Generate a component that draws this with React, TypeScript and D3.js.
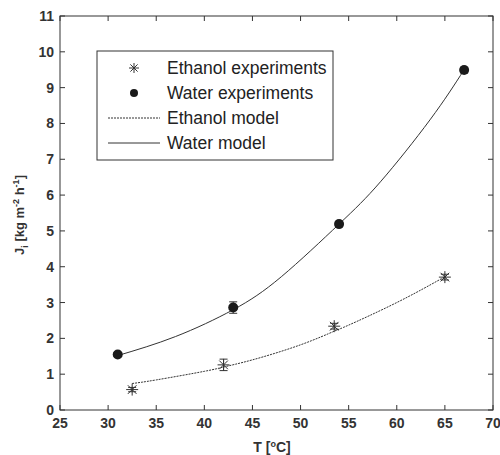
import React from 'react';
import * as d3 from 'd3';

const width = 500;
const height = 455;
const margin = { top: 16, right: 7, bottom: 45, left: 60 };

// experiments
const waterT = [31, 43, 54, 67];
const waterJ = [1.55, 2.86, 5.19, 9.49];
const waterErr = [0.05, 0.16, 0.05, 0.08];
const ethanolT = [32.5, 42, 53.5, 65];
const ethanolJ = [0.57, 1.26, 2.34, 3.71];
const ethanolErr = [0.06, 0.16, 0.08, 0.08];

// model curves
const waterModelT = [31, 37, 43, 48, 54, 58.3, 63.45, 67];
const waterModelJ = [1.52, 2.05, 2.8, 3.72, 5.19, 6.37, 8.1, 9.5];
const ethanolModelT = [32.5, 35, 40, 42, 45, 50, 53.5, 55, 60, 65];
const ethanolModelJ = [0.74, 0.84, 1.08, 1.2, 1.4, 1.82, 2.2, 2.37, 3.0, 3.72];

const xTicks = [25, 30, 35, 40, 45, 50, 55, 60, 65, 70];
const yTicks = [0, 1, 2, 3, 4, 5, 6, 7, 8, 9, 10, 11];
const legendLabels = ['Ethanol experiments', 'Water experiments', 'Ethanol model', 'Water model'];

const ink = '#333';

const Star = ({ x, y, r }: { x: number; y: number; r: number }) => {
  const d = r * 0.72;
  return (
    <g stroke={ink} strokeWidth={1}>
      <line x1={x - r} y1={y} x2={x + r} y2={y} />
      <line x1={x} y1={y - r} x2={x} y2={y + r} />
      <line x1={x - d} y1={y - d} x2={x + d} y2={y + d} />
      <line x1={x - d} y1={y + d} x2={x + d} y2={y - d} />
    </g>
  );
};

export default function App() {
  const x = d3.scaleLinear().domain([25, 70]).range([margin.left, width - margin.right]);
  const y = d3.scaleLinear().domain([0, 11]).range([height - margin.bottom, margin.top]);
  const line = d3
    .line<[number, number]>()
    .x(d => x(d[0]))
    .y(d => y(d[1]))
    .curve(d3.curveNatural);

  const waterModel = line(waterModelT.map((t, i) => [t, waterModelJ[i]] as [number, number]));
  const ethanolModel = line(ethanolModelT.map((t, i) => [t, ethanolModelJ[i]] as [number, number]));

  const x0 = margin.left, x1 = width - margin.right;
  const y0 = height - margin.bottom, y1 = margin.top;
  const tl = 5;
  const font = 'Liberation Sans, Arial, sans-serif';

  const errBar = (t: number, v: number, e: number, k: string) => (
    <g key={k} stroke={ink} strokeWidth={1}>
      <line x1={x(t)} x2={x(t)} y1={y(v - e)} y2={y(v + e)} />
      <line x1={x(t) - 4} x2={x(t) + 4} y1={y(v - e)} y2={y(v - e)} />
      <line x1={x(t) - 4} x2={x(t) + 4} y1={y(v + e)} y2={y(v + e)} />
    </g>
  );

  const lgX = 97, lgY = 51, lgW = 236, lgH = 109;
  const rowY = [68, 93, 118, 143];

  return (
    <svg width={width} height={height} style={{ position: 'absolute', left: 0, top: 0, background: '#fff' }}>
      <rect x={0} y={0} width={width} height={height} fill="#fff" />
      {/* model curves */}
      <path d={ethanolModel || ''} fill="none" stroke={ink} strokeWidth={1} strokeDasharray="2,1" />
      <path d={waterModel || ''} fill="none" stroke={ink} strokeWidth={1} />

      {/* experiments */}
      {ethanolT.map((t, i) => errBar(t, ethanolJ[i], ethanolErr[i], 'ee' + i))}
      {ethanolT.map((t, i) => (
        <Star key={'es' + i} x={x(t)} y={y(ethanolJ[i])} r={6} />
      ))}
      {waterT.map((t, i) => errBar(t, waterJ[i], waterErr[i], 'we' + i))}
      {waterT.map((t, i) => (
        <circle key={'wc' + i} cx={x(t)} cy={y(waterJ[i])} r={5} fill="#1a1a1a" />
      ))}

      {/* frame + ticks */}
      <rect x={x0} y={y1} width={x1 - x0} height={y0 - y1} fill="none" stroke={ink} strokeWidth={1} />
      {xTicks.map(t => (
        <g key={'xt' + t} stroke={ink}>
          <line x1={x(t)} x2={x(t)} y1={y0} y2={y0 - tl} />
          <line x1={x(t)} x2={x(t)} y1={y1} y2={y1 + tl} />
        </g>
      ))}
      {yTicks.map(t => (
        <g key={'yt' + t} stroke={ink}>
          <line x1={x0} x2={x0 + tl} y1={y(t)} y2={y(t)} />
          <line x1={x1} x2={x1 - tl} y1={y(t)} y2={y(t)} />
        </g>
      ))}
      {xTicks.map(t => (
        <text key={'xl' + t} x={x(t)} y={y0 + 18} textAnchor="middle" fontFamily={font} fontWeight="bold" fontSize={14} fill={ink}>
          {t}
        </text>
      ))}
      {yTicks.map(t => (
        <text key={'yl' + t} x={x0 - 6} y={y(t) + 5} textAnchor="end" fontFamily={font} fontWeight="bold" fontSize={14} fill={ink}>
          {t}
        </text>
      ))}

      {/* axis titles */}
      <text x={272} y={452} textAnchor="middle" fontFamily={font} fontWeight="bold" fontSize={14} fill={ink}>
        T [<tspan dy={-5} fontSize={9}>o</tspan>
        <tspan dy={5}>C]</tspan>
      </text>
      <text transform="translate(24,215) rotate(-90)" textAnchor="middle" fontFamily={font} fontWeight="bold" fontSize={13} fill={ink}>
        J<tspan dy={4} fontSize={9}>i</tspan>
        <tspan dy={-4}> [kg m</tspan>
        <tspan dy={-5} fontSize={9}>-2</tspan>
        <tspan dy={5}> h</tspan>
        <tspan dy={-5} fontSize={9}>-1</tspan>
        <tspan dy={5}>]</tspan>
      </text>

      {/* legend */}
      <rect x={lgX} y={lgY} width={lgW} height={lgH} fill="#fff" stroke={ink} strokeWidth={1} />
      <Star x={134} y={rowY[0]} r={5} />
      <circle cx={134} cy={rowY[1]} r={4} fill="#1a1a1a" />
      <line x1={108} x2={160} y1={rowY[2]} y2={rowY[2]} stroke={ink} strokeDasharray="2,1" />
      <line x1={108} x2={160} y1={rowY[3]} y2={rowY[3]} stroke={ink} />
      {legendLabels.map((l, i) => (
        <text key={l} x={167} y={rowY[i] + 6} fontFamily={font} fontSize={17.5} fill="#222">
          {l}
        </text>
      ))}
    </svg>
  );
}
